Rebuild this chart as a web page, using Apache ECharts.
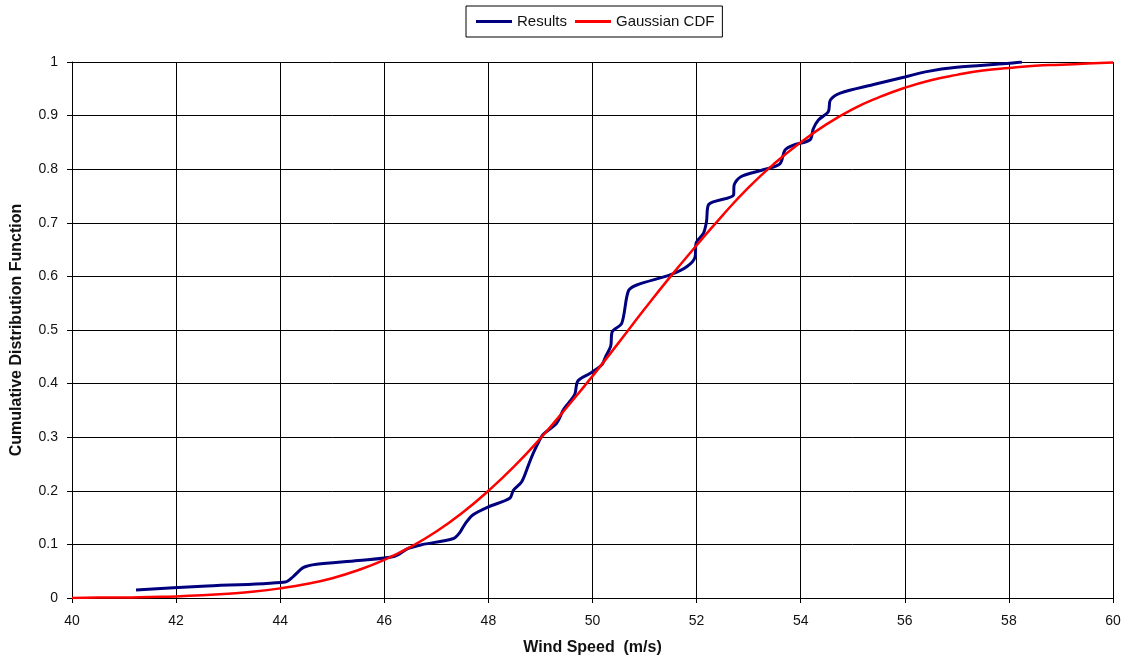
<!DOCTYPE html>
<html>
<head>
<meta charset="utf-8">
<script src="https://cdn.jsdelivr.net/npm/echarts@6/dist/echarts.min.js"></script>
<style>
html, body { margin: 0; padding: 0; background: #fff; }
#box { width: 1125px; height: 655px; }
</style>
</head>
<body>
<div id="box"></div>
<script>
// wind speed (m/s) and CDF values
var resultsSpeed = [41.23, 42.5, 44.1, 44.25, 44.45, 44.7, 45.5, 46.2, 46.45, 46.7, 47.33, 47.45, 47.55, 47.7, 48.0,
	48.41, 48.48, 48.64, 48.77, 48.86, 48.97, 49.05, 49.31, 49.44, 49.55, 49.66, 49.72, 49.95, 50.18, 50.25,
	50.35, 50.38, 50.56, 50.69, 50.85, 51.49, 51.81, 51.97, 51.99, 52.13, 52.19, 52.23, 52.71, 52.72, 52.85,
	53.28, 53.6, 53.7, 53.86, 54.18, 54.24, 54.34, 54.53, 54.57, 54.76, 55.4, 56.0, 56.42, 57.0, 57.96, 58.25];
var resultsCdf = [0.015, 0.022, 0.030, 0.040, 0.057, 0.063, 0.070, 0.078, 0.092, 0.099, 0.111, 0.122, 0.138, 0.155, 0.170,
	0.186, 0.201, 0.217, 0.248, 0.270, 0.292, 0.305, 0.326, 0.351, 0.365, 0.380, 0.405, 0.419, 0.435, 0.450,
	0.470, 0.497, 0.512, 0.573, 0.584, 0.603, 0.618, 0.636, 0.662, 0.680, 0.702, 0.734, 0.752, 0.770, 0.786,
	0.799, 0.810, 0.836, 0.845, 0.855, 0.875, 0.892, 0.907, 0.929, 0.942, 0.958, 0.972, 0.982, 0.990, 0.997, 1.0];

var gaussSpeed = [40, 40.5, 41, 41.5, 42, 42.5, 43, 43.5, 44, 44.5, 45, 45.5, 46, 46.5, 47, 47.5, 48, 48.5, 49, 49.5,
	50, 50.5, 51, 51.5, 52, 52.5, 53, 53.5, 54, 54.5, 55, 55.5, 56, 56.5, 57, 57.5, 58, 58.5, 59, 59.5, 60];
var gaussCdf = [0.000, 0.001, 0.001, 0.002, 0.003, 0.005, 0.008, 0.012, 0.018, 0.026, 0.037, 0.052, 0.071, 0.095,
	0.124, 0.159, 0.200, 0.246, 0.298, 0.355, 0.414, 0.476, 0.539, 0.600, 0.658, 0.714, 0.766, 0.811, 0.850,
	0.884, 0.912, 0.934, 0.952, 0.966, 0.976, 0.984, 0.989, 0.993, 0.995, 0.997, 0.999];

function zip(xs, ys) {
	var out = [];
	for (var i = 0; i < xs.length; i++) {
		out.push([xs[i], ys[i]]);
	}
	return out;
}

var myChart = echarts.init(document.getElementById('box'));
var font = 'Liberation Sans, Arial, sans-serif';
var option = {
	animation: false,
	backgroundColor: '#fff',
	legend: {
		top: 6,
		left: 466,
		padding: [8, 8, 8, 10],
		borderColor: '#000',
		borderWidth: 1,
		borderRadius: 0,
		itemWidth: 36,
		itemHeight: 3,
		itemGap: 8,
		icon: 'rect',
		textStyle: { fontFamily: font, fontSize: 15, color: '#111' },
		data: ['Results', 'Gaussian CDF']
	},
	grid: {
		left: 72,
		right: 12,
		top: 62,
		bottom: 57,
		outerBoundsMode: 'none'
	},
	xAxis: {
		type: 'value',
		min: 40,
		max: 60,
		interval: 2,
		name: 'Wind Speed  (m/s)',
		nameLocation: 'middle',
		nameGap: 42,
		nameTextStyle: { fontFamily: font, fontSize: 16, fontWeight: 'bold', color: '#111' },
		axisLine: { lineStyle: { color: '#000', width: 1 } },
		axisTick: { show: true, length: 5, lineStyle: { color: '#000' } },
		axisLabel: { fontFamily: font, fontSize: 14, color: '#111', margin: 16 },
		splitLine: { show: true, lineStyle: { color: '#000', width: 1 } }
	},
	yAxis: {
		type: 'value',
		min: 0,
		max: 1,
		interval: 0.1,
		name: 'Cumulative Distribution Function',
		nameLocation: 'middle',
		nameGap: 47,
		nameTextStyle: { fontFamily: font, fontSize: 16, fontWeight: 'bold', color: '#111' },
		axisLine: { show: true, lineStyle: { color: '#000', width: 1 } },
		axisTick: { show: true, length: 5, lineStyle: { color: '#000' } },
		axisLabel: {
			fontFamily: font, fontSize: 14, color: '#111', margin: 14,
			formatter: function (v) { return String(Math.round(v * 10) / 10); }
		},
		splitLine: { show: true, lineStyle: { color: '#000', width: 1 } }
	},
	series: [
		{
			name: 'Results',
			type: 'line',
			data: zip(resultsSpeed, resultsCdf),
			showSymbol: false,
			symbol: 'none',
			smooth: 0.3,
			color: '#00007f',
			lineStyle: { color: '#00007f', width: 3 },
			z: 2
		},
		{
			name: 'Gaussian CDF',
			type: 'line',
			data: zip(gaussSpeed, gaussCdf),
			showSymbol: false,
			symbol: 'none',
			smooth: true,
			color: '#ff0000',
			lineStyle: { color: '#ff0000', width: 2.5 },
			z: 3
		}
	]
};
myChart.setOption(option);
</script>
</body>
</html>
